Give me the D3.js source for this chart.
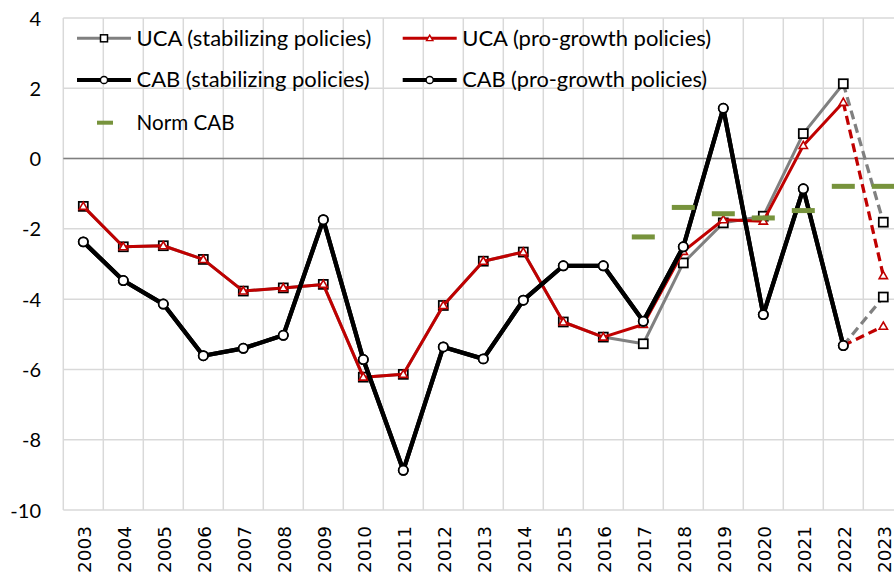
<!DOCTYPE html>
<html>
<head>
<meta charset="utf-8">
<script src="https://cdn.jsdelivr.net/npm/d3@7/dist/d3.min.js"></script>
<style>
  html, body { margin: 0; padding: 0; background: #fff; }
  svg { display: block; }
</style>
</head>
<body>
<svg id="chart" width="894" height="576"></svg>
<script>
const years = ["2003","2004","2005","2006","2007","2008","2009","2010","2011","2012","2013","2014","2015","2016","2017","2018","2019","2020","2021","2022","2023"];
const ucaStab = [-1.36,-2.51,-2.48,-2.87,-3.77,-3.68,-3.58,-6.22,-6.14,-4.18,-2.92,-2.66,-4.65,-5.08,-5.27,-2.97,-1.83,-1.64,0.71,2.13,-1.81];
const ucaPro  = [-1.36,-2.51,-2.48,-2.87,-3.77,-3.68,-3.58,-6.22,-6.14,-4.18,-2.92,-2.66,-4.65,-5.08,-4.72,-2.64,-1.74,-1.78,0.37,1.60,-3.33];
const cabStab = [-2.37,-3.47,-4.14,-5.61,-5.40,-5.03,-1.74,-5.72,-8.87,-5.36,-5.70,-4.03,-3.05,-3.05,-4.63,-2.51,1.43,-4.44,-0.86,-5.32,-3.94];
const cabPro  = [-2.37,-3.47,-4.14,-5.61,-5.40,-5.03,-1.74,-5.72,-8.87,-5.36,-5.70,-4.03,-3.05,-3.05,-4.63,-2.51,1.43,-4.44,-0.86,-5.32,-4.77];
const normCab = [null,null,null,null,null,null,null,null,null,null,null,null,null,null,-2.23,-1.39,-1.57,-1.69,-1.48,-0.79,-0.79];
const yTicks = [-10,-8,-6,-4,-2,0,2,4];
const legendLabels = ["UCA (stabilizing policies)","UCA (pro-growth policies)","CAB (stabilizing policies)","CAB (pro-growth policies)","Norm CAB"];

const GRAY = "#808080", RED = "#c00000", BLACK = "#000000", GREEN = "#77933c";
const svg = d3.select("#chart");

const x = d3.scaleBand().domain(years).range([63.3, 903.3]);
const cx = d => x(d) + x.bandwidth() / 2;
const y = d3.scaleLinear().domain([-10, 4]).range([510, 18]);

// gridlines
const grid = svg.append("g");
grid.selectAll("line.h").data(yTicks).join("line")
  .attr("x1", 63.3).attr("x2", 903.3)
  .attr("y1", d => y(d)).attr("y2", d => y(d))
  .attr("stroke", "#d9d9d9").attr("stroke-width", 1.5);
grid.selectAll("line.v").data(years).join("line")
  .attr("x1", d => x(d)).attr("x2", d => x(d))
  .attr("y1", y(4)).attr("y2", y(-10))
  .attr("stroke", "#d9d9d9").attr("stroke-width", 1.5);
grid.append("line").attr("x1", 63.3).attr("x2", 903.3)
  .attr("y1", y(0)).attr("y2", y(0)).attr("stroke", "#7f7f7f").attr("stroke-width", 1.5);

// y axis labels (hyphen-minus as in the original)
const fmt = d3.formatLocale({ decimal: ".", thousands: ",", grouping: [3], currency: ["", ""], minus: "-" }).format("d");
const yAxis = d3.axisLeft(y).tickValues(yTicks).tickSize(0).tickPadding(0).tickFormat(fmt);
const yg = svg.append("g").attr("transform", "translate(41,0)").call(yAxis);
yg.select(".domain").remove();
yg.selectAll("text").attr("font-family", "Lato, 'Open Sans', sans-serif").attr("font-size", 20).attr("fill", "#000").attr("dy", "0.35em");

// x axis labels
const xAxis = d3.axisBottom(x).tickSize(0).tickPadding(0);
const xg = svg.append("g").call(xAxis);
xg.select(".domain").remove();
xg.selectAll(".tick").attr("transform", null);
xg.selectAll(".tick text")
  .attr("font-family", "'DejaVu Sans', sans-serif").attr("font-size", 18.5).attr("fill", "#000")
  .attr("text-anchor", "end").attr("dy", null).attr("y", null)
  .attr("transform", d => `translate(${cx(d) + 8},526) rotate(-90)`);

// markers
function drawMarker(g, type, px, py) {
  if (type === "square") {
    g.append("rect").attr("x", px - 4.5).attr("y", py - 4.5).attr("width", 9).attr("height", 9)
      .attr("fill", "#fff").attr("stroke", "#000").attr("stroke-width", 1.75);
  } else if (type === "triangle") {
    g.append("path").attr("d", d3.symbol().type(d3.symbolTriangle).size(30)())
      .attr("transform", `translate(${px},${py + 0.6})`)
      .attr("fill", "#fff").attr("stroke", RED).attr("stroke-width", 1.6);
  } else if (type === "circle") {
    g.append("circle").attr("cx", px).attr("cy", py).attr("r", 4.6)
      .attr("fill", "#fff").attr("stroke", "#000").attr("stroke-width", 1.75);
  }
}

const series = [
  { vals: ucaStab, color: GRAY, width: 3, marker: "square", projColor: GRAY, projMarker: "square" },
  { vals: ucaPro, color: RED, width: 3, marker: "triangle", projColor: RED, projMarker: "triangle" },
  { vals: cabStab, color: BLACK, width: 4.25, marker: "circle", projColor: GRAY, projMarker: "square" },
  { vals: cabPro, color: BLACK, width: 4.25, marker: "circle", projColor: RED, projMarker: "triangle" }
];

const line = d3.line().x(d => cx(d.year)).y(d => y(d.v));
const n = years.length;
series.forEach(s => {
  const g = svg.append("g");
  const pts = years.map((yr, i) => ({ year: yr, v: s.vals[i] }));
  g.append("path").datum(pts.slice(0, n - 1)).attr("d", line)
    .attr("fill", "none").attr("stroke", s.color).attr("stroke-width", s.width)
    .attr("stroke-linejoin", "round");
  g.append("path").datum(pts.slice(n - 2)).attr("d", line)
    .attr("fill", "none").attr("stroke", s.projColor).attr("stroke-width", 3.25)
    .attr("stroke-dasharray", "9,5");
  pts.forEach((p, i) => {
    drawMarker(g, i === n - 1 ? s.projMarker : s.marker, cx(p.year), y(p.v));
  });
});

// Norm CAB dashes
svg.append("g").selectAll("rect").data(years.map((yr, i) => ({ year: yr, v: normCab[i] })).filter(d => d.v !== null))
  .join("rect")
  .attr("x", d => cx(d.year) - 11.5).attr("y", d => y(d.v) - 2.5)
  .attr("width", 23).attr("height", 5).attr("fill", GREEN);

// legend
const lg = svg.append("g").attr("font-family", "Lato, 'Open Sans', sans-serif").attr("font-size", 21);
const legendItems = [
  { label: legendLabels[0], color: GRAY, marker: "square", x0: 77, ty: 38.3, w: 3, len: 235 },
  { label: legendLabels[1], color: RED, marker: "triangle", x0: 402.7, ty: 38.3, w: 3, len: 249 },
  { label: legendLabels[2], color: BLACK, marker: "circle", x0: 77, ty: 80, w: 4, len: 233 },
  { label: legendLabels[3], color: BLACK, marker: "circle", x0: 402.7, ty: 80, w: 4, len: 245 }
];
legendItems.forEach(it => {
  lg.append("line").attr("x1", it.x0).attr("x2", it.x0 + 54).attr("y1", it.ty).attr("y2", it.ty)
    .attr("stroke", it.color).attr("stroke-width", it.w);
  if (it.marker === "square") {
    lg.append("rect").attr("x", it.x0 + 27 - 3.5).attr("y", it.ty - 3.5).attr("width", 7).attr("height", 7)
      .attr("fill", "#fff").attr("stroke", "#000").attr("stroke-width", 1.5);
  } else if (it.marker === "triangle") {
    lg.append("path").attr("d", d3.symbol().type(d3.symbolTriangle).size(18)())
      .attr("transform", `translate(${it.x0 + 27},${it.ty + 0.5})`)
      .attr("fill", "#fff").attr("stroke", RED).attr("stroke-width", 1.4);
  } else {
    lg.append("circle").attr("cx", it.x0 + 27).attr("cy", it.ty).attr("r", 3.6)
      .attr("fill", "#fff").attr("stroke", "#000").attr("stroke-width", 1.5);
  }
  lg.append("text").attr("x", it.x0 + 59.5).attr("y", it.ty).attr("dy", "0.35em").attr("fill", "#000")
    .attr("textLength", it.len).attr("lengthAdjust", "spacingAndGlyphs").text(it.label);
});
lg.append("rect").attr("x", 97).attr("y", 122.7 - 2).attr("width", 16).attr("height", 4).attr("fill", GREEN);
lg.append("text").attr("x", 136.5).attr("y", 122.7).attr("dy", "0.35em").attr("fill", "#000")
  .attr("textLength", 98).attr("lengthAdjust", "spacingAndGlyphs").text(legendLabels[4]);
</script>
</body>
</html>
